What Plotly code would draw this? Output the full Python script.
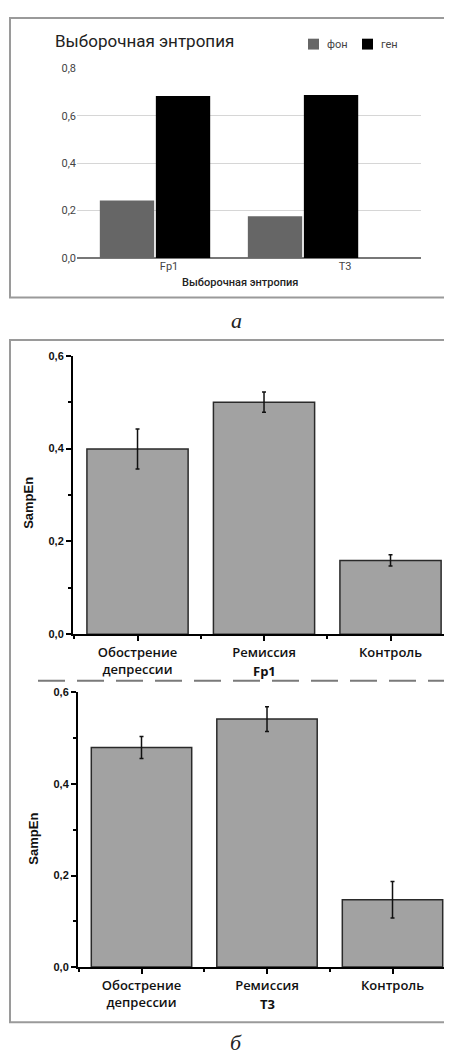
import plotly.graph_objects as go

# page body has an 8px margin; figure is sized so it ends at the window edge
OFF = 8
W, H = 452 - OFF, 1057 - OFF

# ---- data ----
a_categories = ["Fp1", "T3"]
a_series = ["фон", "ген"]
a_colors = ["#666666", "#000000"]
a_fon = [0.242, 0.176]
a_gen = [0.683, 0.687]

b_categories = ["Обострение<br>депрессии", "Ремиссия", "Контроль"]
b_fp1_values = [0.399, 0.500, 0.159]
b_fp1_err = [0.043, 0.022, 0.012]
b_t3_values = [0.480, 0.542, 0.147]
b_t3_err = [0.024, 0.027, 0.040]

def px(x):
    return (x - OFF) / W

def py(y):
    return 1 - (y - OFF) / H

fig = go.Figure()

# panel a
a_pos = list(range(len(a_categories)))
for name, vals, col in zip(a_series, [a_fon, a_gen], a_colors):
    fig.add_trace(go.Bar(x=a_pos, y=vals, name=name, showlegend=False,
                         marker=dict(color=col, line=dict(width=0)), xaxis="x", yaxis="y"))

# panel b
b_pos = list(range(len(b_categories)))
bar_style = dict(color="#a2a2a2", line=dict(color="#2a2a2a", width=1.5))
err_style = dict(type="data", visible=True, color="#111111", thickness=1.5, width=2)
fig.add_trace(go.Bar(x=b_pos, y=b_fp1_values, width=0.8, marker=bar_style, showlegend=False,
                     error_y=dict(array=b_fp1_err, **err_style), xaxis="x2", yaxis="y2"))
fig.add_trace(go.Bar(x=b_pos, y=b_t3_values, width=0.8, marker=bar_style, showlegend=False,
                     error_y=dict(array=b_t3_err, **err_style), xaxis="x3", yaxis="y3"))

b_font = dict(family="Liberation Sans", size=11, color="#111111", weight="bold")
cat_font = dict(family="Open Sans", size=13, color="#111111", weight=600)

layout = dict(
    width=W, height=H, margin=dict(l=0, r=0, t=0, b=0),
    paper_bgcolor="white", plot_bgcolor="white",
    separators=", ",
    barmode="group", bargap=0.243, bargroupgap=0.03,
    showlegend=False,
    xaxis=dict(domain=[px(77), px(421)], anchor="y", range=[-0.527, 1.797],
               tickvals=[0.095, 1.284], ticktext=a_categories, showgrid=False,
               zeroline=False, showline=False, ticks="",
               tickfont=dict(family="Roboto", size=11, color="#444444")),
    yaxis=dict(domain=[py(255), py(63)], anchor="x", range=[0, 0.8], tickvals=[0, 0.2, 0.4, 0.6, 0.8],
               tickformat=".1f", showgrid=True, gridcolor="#d6d6d6", gridwidth=1,
               zeroline=True, zerolinecolor="#777777", zerolinewidth=1.5,
               tickfont=dict(family="Roboto", size=11, color="#444444"), ticks=""),
    xaxis2=dict(domain=[px(73), 1], anchor="y2", range=[-0.51, 2.486],
                tickvals=b_pos, ticktext=b_categories, tickfont=cat_font,
                showline=True, linecolor="#000000", linewidth=2, showgrid=False, zeroline=False,
                ticks="outside", ticklen=5, tickwidth=1.5, tickcolor="#000000",
                minor=dict(ticks="outside", tick0=0.5, dtick=1, ticklen=3, tickwidth=1.5, tickcolor="#000000")),
    yaxis2=dict(domain=[py(636), py(354)], anchor="x2", range=[0, 0.6], dtick=0.2, tick0=0,
                tickformat=".1f", tickfont=b_font, showgrid=False, zeroline=False,
                showline=True, linecolor="#000000", linewidth=2,
                ticks="outside", ticklen=5, tickwidth=1.5, tickcolor="#000000",
                minor=dict(ticks="outside", dtick=0.1, ticklen=3, tickwidth=1.5, tickcolor="#000000")),
    xaxis3=dict(domain=[px(78), 1], anchor="y3", range=[-0.506, 2.474],
                tickvals=b_pos, ticktext=b_categories, tickfont=cat_font,
                showline=True, linecolor="#000000", linewidth=2, showgrid=False, zeroline=False,
                ticks="outside", ticklen=5, tickwidth=1.5, tickcolor="#000000",
                minor=dict(ticks="outside", tick0=0.5, dtick=1, ticklen=3, tickwidth=1.5, tickcolor="#000000")),
    yaxis3=dict(domain=[py(973), py(695)], anchor="x3", range=[0, 0.6], dtick=0.2, tick0=0,
                tickformat=".1f", tickfont=b_font, showgrid=False, zeroline=False,
                showline=True, linecolor="#000000", linewidth=2,
                ticks="outside", ticklen=5, tickwidth=1.5, tickcolor="#000000",
                minor=dict(ticks="outside", dtick=0.1, ticklen=3, tickwidth=1.5, tickcolor="#000000")),
)
fig.update_layout(**layout)

shapes = [
    dict(type="rect", xref="paper", yref="paper", x0=px(10), x1=px(470), y0=py(295), y1=py(12),
         line=dict(color="#9a9a9a", width=2), fillcolor="rgba(0,0,0,0)", layer="below"),
    dict(type="rect", xref="paper", yref="paper", x0=px(10), x1=px(470), y0=py(1029), y1=py(338),
         line=dict(color="#9a9a9a", width=2), fillcolor="rgba(0,0,0,0)", layer="below"),
    dict(type="line", xref="paper", yref="paper", x0=px(38), x1=1, y0=py(683), y1=py(683),
         line=dict(color="#7a7a7a", width=2, dash="27px,12px")),
]
# legend swatches for panel a
legend_x = [308, 362]
for lx, col in zip(legend_x, a_colors):
    shapes.append(dict(type="rect", xref="paper", yref="paper", x0=px(lx), x1=px(lx + 11),
                       y0=py(44), y1=py(33), line=dict(width=0), fillcolor=col))
fig.update_layout(shapes=shapes)

ann = [
    dict(text="Выборочная энтропия", x=px(53), y=py(35), xanchor="left", yanchor="middle",
         font=dict(family="Roboto", size=17, color="#222222")),
    dict(text="Выборочная энтропия", x=px(240), y=py(280), xanchor="center", yanchor="middle",
         font=dict(family="Roboto", size=11, color="#222222", weight=500)),
    dict(text="а", x=px(236), y=py(318), xanchor="center", yanchor="middle",
         font=dict(family="Liberation Serif", size=22, color="#222222", style="italic")),
    dict(text="б", x=px(236), y=py(1049), xanchor="center", yanchor="middle",
         font=dict(family="Liberation Serif", size=22, color="#222222", style="italic")),
    dict(text="SampEn", x=px(29), y=py(503), textangle=-90, xanchor="center", yanchor="middle",
         font=dict(family="Liberation Sans", size=13, color="#111111", weight="bold")),
    dict(text="SampEn", x=px(34), y=py(843), textangle=-90, xanchor="center", yanchor="middle",
         font=dict(family="Liberation Sans", size=13, color="#111111", weight="bold")),
    dict(text="Fp1", x=px(264), y=py(673), xanchor="center", yanchor="middle",
         font=dict(family="Open Sans", size=13, color="#111111", weight="bold")),
    dict(text="T3", x=px(267), y=py(1010), xanchor="center", yanchor="middle",
         font=dict(family="Open Sans", size=13, color="#111111", weight="bold")),
]
for lx, name in zip(legend_x, a_series):
    ann.append(dict(text=name, x=px(lx + 17), y=py(39), xanchor="left", yanchor="middle",
                    font=dict(family="Roboto", size=11, color="#444444")))
for a in ann:
    a.update(xref="paper", yref="paper", showarrow=False)
fig.update_layout(annotations=ann)

fig.write_html("out.html")
